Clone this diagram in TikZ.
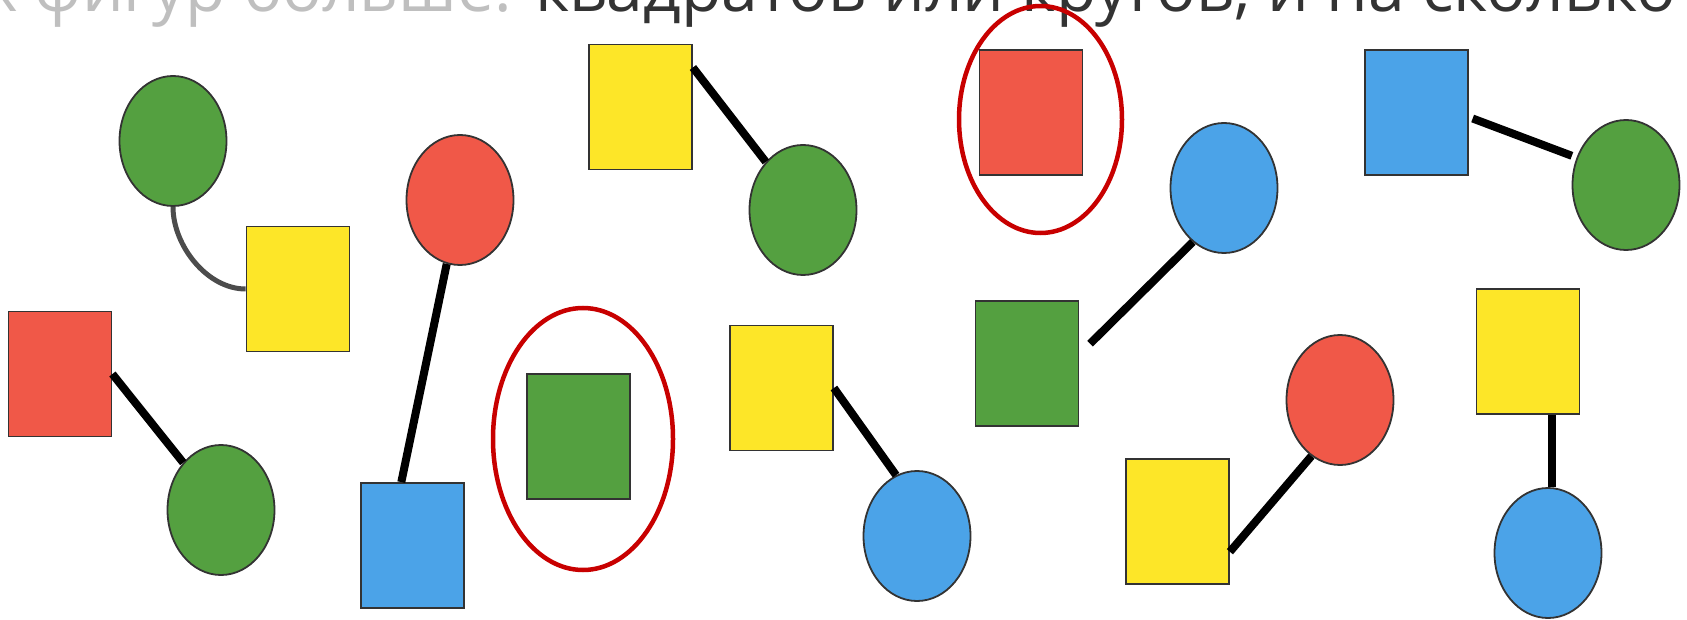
\documentclass[tikz,border=0pt]{standalone}
\usepackage{fontspec}
\newfontfamily\headfont{Open Sans}
\usetikzlibrary{shapes.geometric,positioning,calc}

\definecolor{figgreen}{HTML}{54A040}
\definecolor{figyellow}{HTML}{FDE628}
\definecolor{figred}{HTML}{F05848}
\definecolor{figblue}{HTML}{4BA3E8}
\definecolor{ringred}{HTML}{C80000}

\tikzset{
    sq/.style={rectangle, draw=black!80, line width=1.8pt, minimum width=103pt, minimum height=125pt, inner sep=0pt},
    circ/.style={ellipse, draw=black!80, line width=1.8pt, minimum width=107pt, minimum height=130pt, inner sep=0pt},
    link/.style={line width=8pt, black},
    ring/.style={ellipse, draw=ringred, line width=4.5pt, inner sep=0pt}
}

\begin{document}
\begin{tikzpicture}[x=1pt,y=-1pt]
    \useasboundingbox[fill=white] (0,0) rectangle (1687,620);

    % Task line (cut off at the top)
    \node[anchor=base east, inner sep=0pt, text=black!80, font=\headfont\fontsize{66}{74}\selectfont] (task) at (1676,12)
        {\textcolor{black!25}{Каких фигур больше:} квадратов или кругов, и на сколько};

    % Green circle and yellow square
    \node[circ, fill=figgreen] (gc1) at (173,141) {};
    \node[sq, fill=figyellow] (ysq1) at (298,289) {};
    \draw[line width=5pt, black!70] (gc1.south) to[out=-90, in=180, looseness=0.9] (ysq1.west);

    % Red square and green circle
    \node[sq, fill=figred] (rsq1) at (60,374) {};
    \node[circ, fill=figgreen] (gc2) at (221,510) {};
    \draw[link] (rsq1.east) -- (gc2);

    % Red circle and blue square
    \node[circ, fill=figred] (rc2) at (460,200) {};
    \node[sq, fill=figblue] (bsq1) at (412.5,545.5) {};
    \draw[link] (rc2) -- (bsq1.100);

    % Yellow square and green circle
    \node[sq, fill=figyellow] (ysq2) at (640.5,107) {};
    \node[circ, fill=figgreen] (gc3) at (803,210) {};
    \draw[link] (ysq2.37) -- (gc3);

    % Lone green square
    \node[sq, fill=figgreen] (gsq4) at (578.5,436.5) {};
    \node[ring, minimum width=180pt, minimum height=262pt] (ring1) at (583,439) {};

    % Yellow square and blue circle
    \node[sq, fill=figyellow] (ysq3) at (781.5,388) {};
    \node[circ, fill=figblue] (bc1) at (917,536) {};
    \draw[link] (ysq3.east) -- (bc1.109);

    % Lone red square
    \node[sq, fill=figred] (rsq3) at (1031,112.5) {};
    \node[ring, minimum width=163pt, minimum height=227pt] (ring2) at (1040.5,119.5) {};

    % Green square and blue circle
    \node[sq, fill=figgreen] (gsq5) at (1027,363.5) {};
    \node[circ, fill=figblue] (bc2) at (1224,188) {};
    \draw[link, shorten <=15pt] (gsq5.10) -- (bc2.-120);

    % Blue square and green circle
    \node[sq, fill=figblue] (bsq2) at (1416.5,112.5) {};
    \node[circ, fill=figgreen] (gc6) at (1626,185) {};
    \draw[link, shorten <=4pt, shorten >=5pt] (bsq2.-5) -- (gc6.151);

    % Yellow square and red circle
    \node[sq, fill=figyellow] (ysq5) at (1177.5,521.5) {};
    \node[circ, fill=figred] (rc4) at (1340,400) {};
    \draw[link] (ysq5.-30) -- (rc4.-117);

    % Yellow square and blue circle
    \node[sq, fill=figyellow] (ysq4) at (1528,351.5) {};
    \node[circ, fill=figblue] (bc3) at (1548,553) {};
    \draw[link] ([xshift=24pt]ysq4.south) -- ([xshift=24pt]ysq4.south |- bc3.north);
\end{tikzpicture}
\end{document}
